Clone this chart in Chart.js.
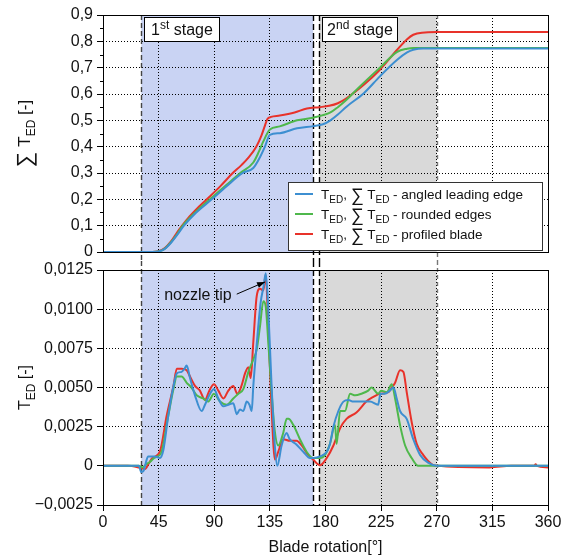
<!DOCTYPE html>
<html>
<head>
<meta charset="utf-8">
<script src="https://cdn.jsdelivr.net/npm/chart.js@4.4.1/dist/chart.umd.min.js"></script>
<style>
  html, body { margin: 0; padding: 0; background: #fff; }
  #wrap { position: relative; width: 562px; height: 555px; }
  #topChart { position: absolute; left: 0; top: 0; }
  #botChart { position: absolute; left: 0; top: 261px; }
</style>
</head>
<body>
<div id="wrap">
  <canvas id="topChart" width="562" height="261"></canvas>
  <canvas id="botChart" width="562" height="294"></canvas>
</div>
<script>
const FONT = '"Liberation Sans", Arial, Helvetica, sans-serif';
Chart.defaults.font.family = FONT;
Chart.defaults.color = '#111';

// x axis (blade rotation, degrees)
const xTicks = [0, 45, 90, 135, 180, 225, 270, 315, 360];
const stage1 = [31, 170];
const stage2 = [175, 270];

const seriesNames = ['angled leading edge', 'rounded edges', 'profiled blade'];
const seriesColors = ['#3d8fd1', '#4fb84c', '#e8322a'];

// cumulative sum of T_ED (top panel)
const sumAngledX = [0, 40, 45, 50, 55, 60, 65.5, 75, 88, 100, 113, 121.6, 127, 131, 135, 143, 157, 170, 178, 184, 190, 197, 211, 224, 238, 246, 251, 259, 270, 360];
const sumAngled  = [0, 0, 0.002, 0.012, 0.035, 0.065, 0.1, 0.148, 0.2, 0.25, 0.3, 0.319, 0.36, 0.4, 0.445, 0.451, 0.47, 0.478, 0.485, 0.5, 0.522, 0.552, 0.603, 0.667, 0.73, 0.758, 0.768, 0.773, 0.773, 0.773];

const sumRoundedX = [0, 40, 45, 50, 55, 60, 64.5, 75, 86.5, 100, 111, 121.6, 126, 129.7, 135, 143, 157, 170, 184, 190, 197, 207, 224, 238, 246, 251, 270, 360];
const sumRounded  = [0, 0, 0.002, 0.013, 0.037, 0.068, 0.1, 0.152, 0.2, 0.255, 0.3, 0.34, 0.38, 0.42, 0.465, 0.477, 0.5, 0.51, 0.53, 0.55, 0.578, 0.625, 0.7, 0.76, 0.772, 0.775, 0.775, 0.775];

const sumProfiledX = [0, 40, 45, 50, 55, 60, 64, 70, 75, 84, 95, 105, 112, 118, 124, 128, 131, 133, 136, 143, 155, 165, 175, 183, 190, 197, 211, 224, 238, 246, 251, 258, 270, 360];
const sumProfiled  = [0, 0, 0.003, 0.015, 0.04, 0.075, 0.1, 0.135, 0.16, 0.2, 0.25, 0.3, 0.33, 0.36, 0.4, 0.44, 0.48, 0.505, 0.513, 0.518, 0.53, 0.545, 0.55, 0.555, 0.565, 0.584, 0.635, 0.692, 0.768, 0.808, 0.825, 0.833, 0.835, 0.835];

// instantaneous T_ED (bottom panel)
const tedAngledX = [0, 20, 29, 31, 33, 35, 36.5, 42, 46, 48.8, 52.8, 57, 59.7, 63.6, 66, 67.7, 70.4, 74.4, 79.8, 82.5, 86.6, 89.8, 93.3, 97.4, 101.4, 105.4, 108.2, 110.8, 113.5, 116.3, 118.5, 120.3, 121.6, 124.5, 127.5, 130, 131.7, 133.7, 136.4, 139, 141, 144.5, 148.5, 151, 156, 162, 167.4, 170, 175.6, 181, 183.6, 186.4, 190.4, 194.5, 198.5, 202.5, 207.9, 216, 222.6, 224.5, 228, 232, 235, 237.6, 240.3, 245.7, 251, 256.5, 263, 270, 360];
const tedAngled  = [0, 0, 0, -0.0004, -0.0003, 0.0003, 0.0006, 0.0006, 0.0005, 0.001, 0.0032, 0.0051, 0.0059, 0.006, 0.0062, 0.0064, 0.0056, 0.0045, 0.0035, 0.0039, 0.0046, 0.0049, 0.0043, 0.0038, 0.0039, 0.004, 0.0033, 0.0036, 0.0035, 0.0041, 0.0039, 0.0035, 0.0051, 0.0079, 0.0104, 0.0115, 0.0123, 0.01, 0.0051, 0.0013, 0, 0.0013, 0.0021, 0.0017, 0.0014, 0.0009, 0.0005, 0.0005, 0.0006, 0.0009, 0.0014, 0.0025, 0.0035, 0.0041, 0.0042, 0.0041, 0.0041, 0.0041, 0.0039, 0.0046, 0.0046, 0.0048, 0.005, 0.0043, 0.0035, 0.003, 0.0017, 0.0007, 0.0002, 0, 0];

const tedRoundedX = [0, 20, 29, 32, 35, 38, 41.4, 44, 47.4, 52.8, 57, 59.7, 63.6, 67.7, 71.5, 75.8, 81, 85, 89.8, 94.7, 100, 105.4, 109.5, 113.5, 117.6, 121.6, 124.3, 127, 129.7, 131.6, 133.7, 136.4, 139, 141.8, 145.8, 148.6, 150, 154, 159.3, 164.7, 170, 175.6, 179.6, 183.6, 187.7, 189, 191.8, 195.8, 199.9, 204, 209, 214.6, 217.3, 222.6, 225, 229.5, 233.6, 236.3, 240.3, 244.4, 249.7, 255, 360];
const tedRounded  = [0, 0, 0, -0.0001, 0.0001, 0.00025, 0.0005, 0.0006, 0.0009, 0.0032, 0.0049, 0.0057, 0.0057, 0.0053, 0.005, 0.0045, 0.0043, 0.0041, 0.0046, 0.0041, 0.0039, 0.0043, 0.0046, 0.0049, 0.006, 0.0068, 0.0074, 0.0089, 0.0105, 0.0102, 0.0079, 0.0047, 0.0022, 0.0013, 0.0021, 0.003, 0.003, 0.0026, 0.0017, 0.0009, 0.0005, 0.0005, 0.0007, 0.0014, 0.0026, 0.0014, 0.0035, 0.0035, 0.0046, 0.0045, 0.0046, 0.0048, 0.005, 0.0046, 0.0048, 0.0047, 0.0052, 0.0043, 0.0026, 0.0013, 0.0005, 0, 0];

const tedProfiledX = [0, 20, 29, 34, 37, 40, 46, 51.5, 57, 59.7, 63.6, 67.7, 70.4, 74.4, 78.4, 82.5, 86, 89.8, 93.3, 97.4, 101.4, 105.4, 108.7, 112, 114.9, 117.6, 119.5, 121.6, 124.3, 127, 129.7, 131.6, 133.7, 136.4, 139.1, 141.8, 145.8, 151.2, 156.6, 160.7, 166, 170, 175.6, 181, 186.4, 191.8, 197, 205, 213, 218.7, 224, 230.9, 233.6, 236.3, 240.3, 243, 245.7, 249.7, 253.8, 259, 266, 270, 312, 313, 330, 349, 350, 351, 360];
const tedProfiled  = [0, 0, -0.0001, -0.0002, 0.00015, 0.0005, 0.0009, 0.0032, 0.0051, 0.0062, 0.0062, 0.0061, 0.0057, 0.0051, 0.0048, 0.0042, 0.0048, 0.0052, 0.0048, 0.0043, 0.0048, 0.0051, 0.0046, 0.0051, 0.0059, 0.0063, 0.0056, 0.0079, 0.0108, 0.0113, 0.0112, 0.0122, 0.0089, 0.0036, 0.0004, 0.0009, 0.0017, 0.0016, 0.0016, 0.0013, 0.0007, 0.0004, 0.00004, 0.0005, 0.0013, 0.0024, 0.003, 0.0034, 0.0041, 0.0044, 0.0046, 0.0047, 0.005, 0.0053, 0.0061, 0.006, 0.0047, 0.0028, 0.0014, 0.0007, 0.0001, 0, -0.0001, -0.0001, 0, 0, 0.0001, 0, -0.0001];

// annotation in lower panel
const nozzleLabel = 'nozzle tip';
const nozzleFrom = [108.2, 0.01096];
const nozzleTo = [131.1, 0.01174];

const pts = (xs, ys) => xs.map((x, i) => ({ x: x, y: ys[i] }));

function makeDatasets(list) {
  return list.map((s, i) => ({
    label: seriesNames[i],
    data: pts(s[0], s[1]),
    borderColor: seriesColors[i],
    borderWidth: 2,
    pointRadius: 0,
    fill: false,
    cubicInterpolationMode: 'monotone'
  }));
}

// draws text made of runs: '' normal, 'sub', 'sup', 'big'
function drawRich(ctx, parts, x, y, size, align) {
  const fontOf = k => (k === 'sub' || k === 'sup' ? Math.round(size * 0.72)
    : k === 'big' ? Math.round(size * 1.3) : size) + 'px ' + FONT;
  let w = 0;
  parts.forEach(([t, k]) => { ctx.font = fontOf(k); w += ctx.measureText(t).width; });
  let cx = align === 'center' ? x - w / 2 : align === 'right' ? x - w : x;
  ctx.textAlign = 'left';
  ctx.textBaseline = 'alphabetic';
  parts.forEach(([t, k]) => {
    ctx.font = fontOf(k);
    const dy = k === 'sub' ? size * 0.3 : k === 'sup' ? -size * 0.4 : k === 'big' ? size * 0.12 : 0;
    ctx.fillText(t, cx, y + dy);
    cx += ctx.measureText(t).width;
  });
  return w;
}

const shadePlugin = {
  id: 'shade',
  beforeDraw(chart) {
    const { ctx, chartArea: a, scales: { x } } = chart;
    ctx.save();
    ctx.fillStyle = '#c9d3f3';
    const b0 = x.getPixelForValue(stage1[0]), b1 = x.getPixelForValue(stage1[1]);
    ctx.fillRect(b0, a.top, b1 - b0, a.bottom - a.top);
    ctx.fillStyle = '#d9d9d9';
    const g0 = x.getPixelForValue(stage2[0]), g1 = x.getPixelForValue(stage2[1]);
    ctx.fillRect(g0, a.top, g1 - g0, a.bottom - a.top);
    ctx.restore();
  },
  beforeDatasetsDraw(chart) {
    const { ctx, chartArea: a, scales: { x } } = chart;
    const isTop = chart.canvas.id === 'topChart';
    const y0 = isTop ? a.top : 0;
    const y1 = isTop ? chart.height : a.bottom;
    const lines = [
      [stage1[0], '#444', [5, 3]],
      [stage1[1], '#000', [6, 3]],
      [stage2[0], '#000', [6, 3]],
      [stage2[1], '#777', [4, 3]]
    ];
    ctx.save();
    ctx.lineWidth = 1.4;
    lines.forEach(([v, c, d]) => {
      const px = Math.round(x.getPixelForValue(v)) + 0.5;
      ctx.strokeStyle = c;
      ctx.setLineDash(d);
      ctx.beginPath();
      ctx.moveTo(px, y0);
      ctx.lineTo(px, y1);
      ctx.stroke();
    });
    ctx.restore();
  },
  afterDraw(chart) {
    const { ctx, chartArea: a } = chart;
    ctx.save();
    ctx.strokeStyle = '#000';
    ctx.lineWidth = 1;
    ctx.setLineDash([]);
    ctx.strokeRect(Math.round(a.left) + 0.5, Math.round(a.top) + 0.5,
      Math.round(a.right - a.left), Math.round(a.bottom - a.top));
    ctx.restore();
  }
};

const topExtras = {
  id: 'topExtras',
  afterDraw(chart) {
    const { ctx, chartArea: a, scales: { x, y } } = chart;
    ctx.save();
    // minor y ticks
    ctx.strokeStyle = '#000';
    ctx.lineWidth = 1;
    for (let v = 0.05; v < 0.9; v += 0.1) {
      const py = Math.round(y.getPixelForValue(v)) + 0.5;
      ctx.beginPath(); ctx.moveTo(a.left - 3, py); ctx.lineTo(a.left, py); ctx.stroke();
    }
    // stage labels
    const boxes = [[stage1[0], '1', 'st'], [stage2[0], '2', 'nd']];
    boxes.forEach(([v, n, s]) => {
      const bx = Math.round(x.getPixelForValue(v)) + 3;
      const by = Math.round(a.top) + 2;
      ctx.fillStyle = '#fff';
      ctx.fillRect(bx, by, 75, 24);
      ctx.strokeStyle = '#000';
      ctx.strokeRect(bx + 0.5, by + 0.5, 75, 24);
      ctx.fillStyle = '#111';
      drawRich(ctx, [[n, ''], [s, 'sup'], [' stage', '']], bx + 38, by + 18, 16, 'center');
    });
    // legend
    const lw = 254, lh = 68;
    const lx = Math.round(a.right) - 6 - lw, ly = Math.round(a.bottom) - 2 - lh;
    ctx.fillStyle = '#fff';
    ctx.fillRect(lx, ly, lw, lh);
    ctx.strokeStyle = '#333';
    ctx.strokeRect(lx + 0.5, ly + 0.5, lw, lh);
    seriesNames.forEach((name, i) => {
      const ry = ly + 12 + i * 20;
      ctx.strokeStyle = seriesColors[i];
      ctx.lineWidth = 2;
      ctx.beginPath(); ctx.moveTo(lx + 7, ry); ctx.lineTo(lx + 25, ry); ctx.stroke();
      ctx.fillStyle = '#111';
      drawRich(ctx, [['T', ''], ['ED', 'sub'], [', ', ''], ['\u2211', 'big'], [' T', ''], ['ED', 'sub'], [' - ' + name, '']],
        lx + 33, ry + 5, 13.5, 'left');
    });
    // y title
    ctx.translate(24, (a.top + a.bottom) / 2);
    ctx.rotate(-Math.PI / 2);
    ctx.fillStyle = '#111';
    drawRich(ctx, [['\u2211', 'big'], [' T', ''], ['ED', 'sub'], [' [-]', '']], 0, 6, 17, 'center');
    ctx.restore();
  }
};

const botExtras = {
  id: 'botExtras',
  afterDraw(chart) {
    const { ctx, chartArea: a, scales: { x, y } } = chart;
    ctx.save();
    // nozzle tip arrow
    const fx = x.getPixelForValue(nozzleFrom[0]), fy = y.getPixelForValue(nozzleFrom[1]);
    const tx = x.getPixelForValue(nozzleTo[0]), ty = y.getPixelForValue(nozzleTo[1]);
    ctx.strokeStyle = '#000';
    ctx.fillStyle = '#000';
    ctx.lineWidth = 1;
    ctx.beginPath(); ctx.moveTo(fx, fy); ctx.lineTo(tx, ty); ctx.stroke();
    const ang = Math.atan2(ty - fy, tx - fx);
    ctx.beginPath();
    ctx.moveTo(tx, ty);
    ctx.lineTo(tx - 8 * Math.cos(ang) + 3 * Math.sin(ang), ty - 8 * Math.sin(ang) - 3 * Math.cos(ang));
    ctx.lineTo(tx - 8 * Math.cos(ang) - 3 * Math.sin(ang), ty - 8 * Math.sin(ang) + 3 * Math.cos(ang));
    ctx.closePath(); ctx.fill();
    ctx.fillStyle = '#111';
    drawRich(ctx, [[nozzleLabel, '']], fx - 5, fy + 5.5, 16, 'right');
    // x title
    drawRich(ctx, [['Blade rotation[\u00b0]', '']], (a.left + a.right) / 2, chart.height - 3, 16, 'center');
    // y title
    ctx.translate(24, (a.top + a.bottom) / 2);
    ctx.rotate(-Math.PI / 2);
    drawRich(ctx, [['T', ''], ['ED', 'sub'], [' [-]', '']], 0, 6, 16, 'center');
    ctx.restore();
  }
};

const commaFmt = d => v => {
  if (Math.abs(v) < 1e-9) return '0';
  const s = Math.abs(v).toFixed(d).replace('.', ',');
  return v < 0 ? '\u2212' + s : s;
};

function baseOptions(isTop, yMin, yMax, yStep, digits) {
  return {
    responsive: false,
    animation: false,
    layout: { autoPadding: false, padding: isTop ? { top: 15, right: 14, bottom: 9, left: 0 } : { top: 9, right: 14, bottom: 0, left: 0 } },
    plugins: { legend: { display: false }, tooltip: { enabled: false } },
    scales: {
      x: {
        type: 'linear', min: 0, max: 360,
        afterBuildTicks: s => { s.ticks = xTicks.map(v => ({ value: v })); },
        grid: { color: '#000', lineWidth: 1, drawTicks: !isTop, tickLength: 6, tickColor: '#000' },
        border: { display: false, dash: [1, 2] },
        ticks: { display: !isTop, font: { size: 16 }, padding: 2, color: '#111', maxRotation: 0 },
        afterFit: s => { s.height = isTop ? 0 : 50; s.paddingLeft = 0; s.paddingRight = 0; }
      },
      y: {
        min: yMin, max: yMax,
        ticks: { stepSize: yStep, font: { size: 16 }, padding: 4, color: '#111', callback: commaFmt(digits) },
        grid: { color: '#000', lineWidth: 1, tickLength: 6, tickColor: '#000' },
        border: { display: false, dash: [1, 2] },
        afterFit: s => { s.width = 103; s.paddingTop = 0; s.paddingBottom = 0; }
      }
    }
  };
}

new Chart(document.getElementById('topChart'), {
  type: 'line',
  data: { datasets: makeDatasets([[sumAngledX, sumAngled], [sumRoundedX, sumRounded], [sumProfiledX, sumProfiled]]) },
  options: baseOptions(true, 0, 0.9, 0.1, 1),
  plugins: [shadePlugin, topExtras]
});

new Chart(document.getElementById('botChart'), {
  type: 'line',
  data: { datasets: makeDatasets([[tedAngledX, tedAngled], [tedRoundedX, tedRounded], [tedProfiledX, tedProfiled]]) },
  options: baseOptions(false, -0.0025, 0.0125, 0.0025, 4),
  plugins: [shadePlugin, botExtras]
});
</script>
</body>
</html>
